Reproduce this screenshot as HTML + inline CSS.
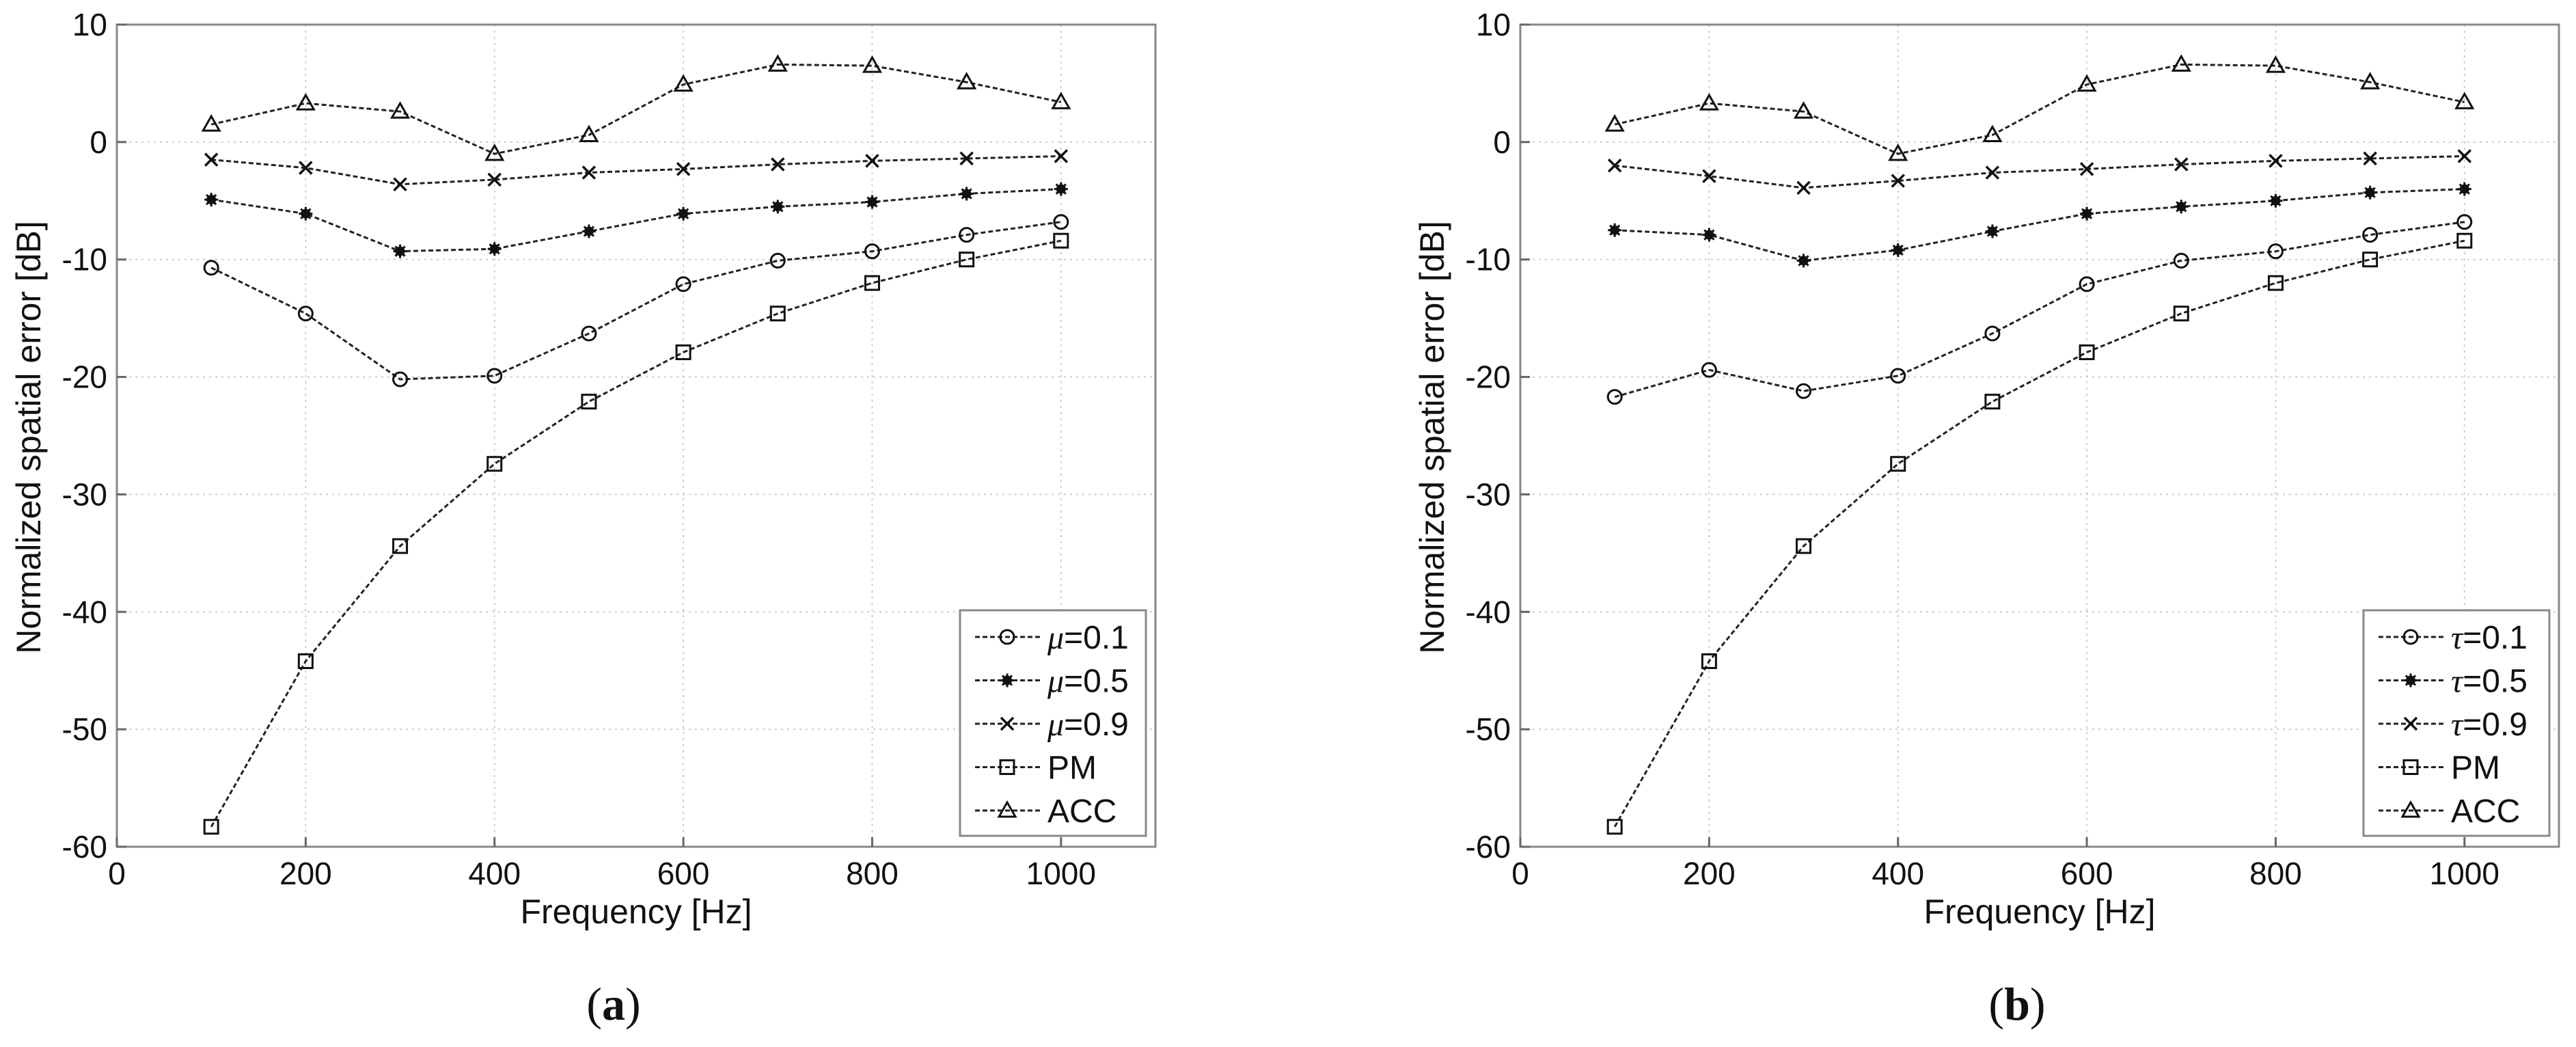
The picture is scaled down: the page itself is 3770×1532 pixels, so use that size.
<!DOCTYPE html>
<html><head><meta charset="utf-8">
<style>
html,body{margin:0;padding:0;background:#fff;}
svg{display:block;}
text{font-family:"Liberation Sans",sans-serif;fill:#111;}
</style></head>
<body>
<svg id="fig" width="3770" height="1532" viewBox="0 0 3770 1532" xmlns="http://www.w3.org/2000/svg"></svg>
<script>
const freqs = [100,200,300,400,500,600,700,800,900,1000];
const xTicks = [0,200,400,600,800,1000];
const yTicks = [10,0,-10,-20,-30,-40,-50,-60];
const accVals = [1.5,3.3,2.6,-1.0,0.6,4.9,6.6,6.5,5.1,3.4];
const pmVals = [-58.3,-44.2,-34.4,-27.4,-22.1,-17.9,-14.6,-12.0,-10.0,-8.4];
const muLow = [-10.7,-14.6,-20.2,-19.9,-16.3,-12.1,-10.1,-9.3,-7.9,-6.8];
const muMid = [-4.9,-6.1,-9.3,-9.1,-7.6,-6.1,-5.5,-5.1,-4.4,-4.0];
const muHigh = [-1.5,-2.2,-3.6,-3.2,-2.6,-2.3,-1.9,-1.6,-1.4,-1.2];
const tauLow = [-21.7,-19.4,-21.2,-19.9,-16.3,-12.1,-10.1,-9.3,-7.9,-6.8];
const tauMid = [-7.5,-7.9,-10.1,-9.2,-7.6,-6.1,-5.5,-5.0,-4.3,-4.0];
const tauHigh = [-2.0,-2.9,-3.9,-3.3,-2.6,-2.3,-1.9,-1.6,-1.4,-1.2];
const legendLabelsA = ["=0.1","=0.5","=0.9","PM","ACC"];

const NS = "http://www.w3.org/2000/svg";
const svg = document.getElementById('fig');
function mk(tag, attrs, parent){
  const e = document.createElementNS(NS, tag);
  for (const k in attrs) e.setAttribute(k, attrs[k]);
  (parent||svg).appendChild(e);
  return e;
}

function drawMarker(g, type, cx, cy){
  const s = 10;
  let m;
  if (type === 'circle') {
    m = mk('circle', {cx:cx, cy:cy, r:s, fill:'none', stroke:'#111', 'stroke-width':3}, g);
  } else if (type === 'star') {
    m = mk('g', {}, g);
    mk('circle', {cx:cx, cy:cy, r:7, fill:'#111'}, m);
    for (let a=0; a<4; a++){
      const ang = a*Math.PI/4;
      mk('line', {x1:cx-s*Math.cos(ang), y1:cy-s*Math.sin(ang), x2:cx+s*Math.cos(ang), y2:cy+s*Math.sin(ang), stroke:'#111','stroke-width':3}, m);
    }
  } else if (type === 'x') {
    m = mk('path', {d:`M${cx-9},${cy-9}L${cx+9},${cy+9}M${cx-9},${cy+9}L${cx+9},${cy-9}`, stroke:'#111','stroke-width':3.5, fill:'none'}, g);
  } else if (type === 'square') {
    m = mk('rect', {x:cx-10, y:cy-10, width:20, height:20, fill:'none', stroke:'#111','stroke-width':3}, g);
  } else {
    m = mk('path', {d:`M${cx},${cy-12}L${cx+12},${cy+9}L${cx-12},${cy+9}Z`, fill:'none', stroke:'#111','stroke-width':3}, g);
  }
  return m;
}

function drawPanel(ox, tag, sym, series){
  const L = ox, T = 36, W = 1520, H = 1203;
  const xMin = 0, xMax = 1100, yMin = -60, yMax = 10;
  const xs = v => L + (v - xMin) / (xMax - xMin) * W;
  const ys = v => T + (yMax - v) / (yMax - yMin) * H;
  const g = mk('g', {});
  
  

  const grid = mk('g', {}, g);
  
  
  xTicks.forEach(t => { if (t > xMin) mk('line', {x1:xs(t), y1:T, x2:xs(t), y2:T+H, stroke:'#ccc','stroke-width':2,'stroke-dasharray':'3,6'}, grid); });
  yTicks.forEach(t => { if (t > yMin && t < yMax) mk('line', {x1:L, y1:ys(t), x2:L+W, y2:ys(t), stroke:'#ccc','stroke-width':2,'stroke-dasharray':'3,6'}, grid); });

  const frame = mk('rect', {x:L, y:T, width:W, height:H, fill:'none', stroke:'#888','stroke-width':3}, g);
  
  

  const xa = mk('g', {}, g);
  
  
  xTicks.forEach(t => {
    mk('line', {x1:xs(t), y1:T+H, x2:xs(t), y2:T+H-14, stroke:'#666','stroke-width':3}, xa);
    const tx = mk('text', {x:xs(t), y:1294, 'font-size':46, 'text-anchor':'middle'}, xa);
    tx.textContent = t;
    
    
  });
  const ya = mk('g', {}, g);
  
  
  yTicks.forEach(t => {
    mk('line', {x1:L, y1:ys(t), x2:L+14, y2:ys(t), stroke:'#666','stroke-width':3}, ya);
    const tx = mk('text', {x:L-14, y:ys(t)+16, 'font-size':46, 'text-anchor':'end'}, ya);
    tx.textContent = t;
    
    
  });
  const xt = mk('text', {x:L+W/2, y:1351, 'font-size':50, 'text-anchor':'middle'}, g);
  xt.textContent = 'Frequency [Hz]';
  
  
  const yt = mk('text', {x:0, y:0, 'font-size':50, 'text-anchor':'middle', transform:`translate(${L-112},640) rotate(-90)`}, g);
  yt.textContent = 'Normalized spatial error [dB]';
  
  

  series.forEach(s => {
    const sg = mk('g', {}, g);
    
    
    const pts = freqs.map((f,i) => xs(f) + ',' + ys(s.vals[i])).join(' ');
    const pl = mk('polyline', {points:pts, fill:'none', stroke:'#222','stroke-width':3,'stroke-dasharray':'7,4'}, sg);
    
    
    freqs.forEach((f,i) => {
      const m = drawMarker(sg, s.marker, xs(f), ys(s.vals[i]));
      
      
    });
  });

  // legend
  const lx = L + 1234, ly = 893;
  const lg = mk('g', {}, g);
  
  
  mk('rect', {x:lx, y:ly, width:272, height:330, fill:'#fff', stroke:'#888','stroke-width':3}, lg);
  series.forEach((s, i) => {
    const cy = 932 + i*63.5;
    const eg = mk('g', {}, lg);
    
    
    mk('line', {x1:lx+22, y1:cy, x2:lx+120, y2:cy, stroke:'#222','stroke-width':3,'stroke-dasharray':'7,4'}, eg);
    drawMarker(eg, s.marker, lx+69, cy);
    const tx = mk('text', {x:lx+128, y:cy+17, 'font-size':48}, eg);
    if (i < 3) {
      const sp = mk('tspan', {'font-family':'"Liberation Serif",serif','font-style':'italic'}, tx);
      sp.textContent = sym;
      const sp2 = mk('tspan', {}, tx);
      sp2.textContent = legendLabelsA[i];
    } else {
      tx.textContent = legendLabelsA[i];
    }
  });

  const cap = mk('text', {x:L+727, y:1492, 'font-size':68, 'text-anchor':'middle', 'font-family':'"Liberation Serif",serif'}, g);
  
  
  const c1 = mk('tspan', {'font-family':'"Liberation Serif",serif'}, cap); c1.textContent = '(';
  const c2 = mk('tspan', {'font-family':'"Liberation Serif",serif','font-weight':'bold'}, cap); c2.textContent = tag;
  const c3 = mk('tspan', {'font-family':'"Liberation Serif",serif'}, cap); c3.textContent = ')';
}

drawPanel(171, 'a', 'μ', [
  {id:'mu-0-1', vals:muLow, marker:'circle'},
  {id:'mu-0-5', vals:muMid, marker:'star'},
  {id:'mu-0-9', vals:muHigh, marker:'x'},
  {id:'pm', vals:pmVals, marker:'square'},
  {id:'acc', vals:accVals, marker:'triangle'}
]);
drawPanel(2225, 'b', 'τ', [
  {id:'tau-0-1', vals:tauLow, marker:'circle'},
  {id:'tau-0-5', vals:tauMid, marker:'star'},
  {id:'tau-0-9', vals:tauHigh, marker:'x'},
  {id:'pm', vals:pmVals, marker:'square'},
  {id:'acc', vals:accVals, marker:'triangle'}
]);
</script>
</body></html>
